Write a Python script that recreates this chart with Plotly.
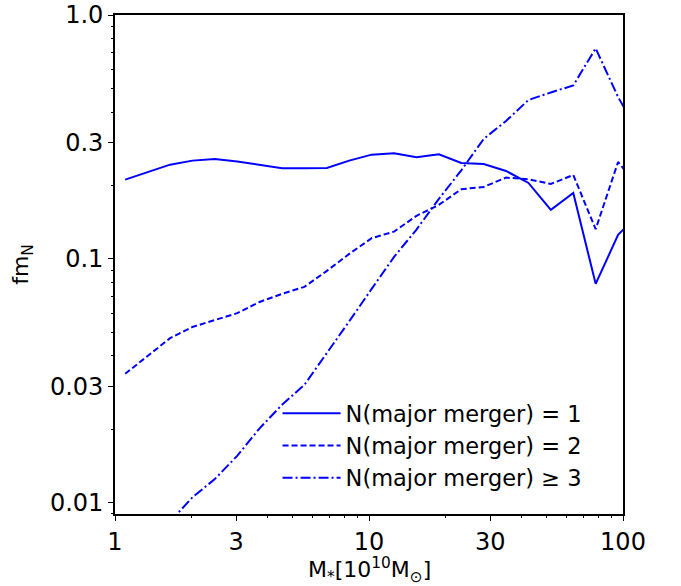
import plotly.graph_objects as go

# Stellar mass bins (10^10 Msun), log-spaced
mass = [1.097, 1.344, 1.647, 2.018, 2.472, 3.028, 3.710, 4.546, 5.569, 6.823,
        8.359, 10.24, 12.55, 15.38, 18.84, 23.08, 28.28, 34.64, 42.44, 52.00,
        63.71, 78.05, 95.63, 117.2]

f_n1 = [0.2113, 0.2273, 0.2434, 0.2529, 0.2570, 0.2510, 0.2428, 0.2352, 0.2355, 0.2360,
        0.2529, 0.2676, 0.2712, 0.2611, 0.2686, 0.2474, 0.2451, 0.2294, 0.2048, 0.1588,
        0.1864, 0.0790, 0.1254, 0.1558]

f_n2 = [0.0338, 0.0400, 0.0473, 0.0526, 0.0562, 0.0599, 0.0666, 0.0719, 0.0768, 0.0893,
        0.1048, 0.1216, 0.1294, 0.1501, 0.1665, 0.1931, 0.1973, 0.2154, 0.2122, 0.2029,
        0.2210, 0.1323, 0.2497, 0.1918]

mass_n3 = mass[2:]
f_n3 = [0.00836, 0.01053, 0.01251, 0.01558, 0.02020, 0.02522, 0.03046, 0.04095,
        0.05549, 0.0753, 0.1019, 0.1319, 0.1762, 0.2307, 0.3102, 0.3678, 0.4483,
        0.4814, 0.5142, 0.7302, 0.4612, 0.3162]

x_ticks = [1, 3, 10, 30, 100]
x_ticktext = ["1", "3", "10", "30", "100"]
y_ticks = [0.01, 0.03, 0.1, 0.3, 1.0]
y_ticktext = ["0.01", "0.03", "0.1", "0.3", "1.0"]

labels = ["N(major merger) = 1", "N(major merger) = 2", "N(major merger) \u2265 3"]
x_title = "M<sub>*</sub>[10<sup>10</sup>M<sub>\u2299</sub>]"
y_title = "fm<sub>N</sub>"

minor_x = [m * 10 ** e for e in range(0, 2) for m in range(2, 10) if m != 3]
minor_y = [m * 10 ** e for e in (-3, -2, -1) for m in range(2, 10) if m != 3]

FONT = "DejaVu Sans"
BLUE = "#0000ff"

fig = go.Figure()
fig.add_trace(go.Scatter(x=mass, y=f_n1, mode="lines", name=labels[0],
                         line=dict(color=BLUE, width=2, dash="solid")))
fig.add_trace(go.Scatter(x=mass, y=f_n2, mode="lines", name=labels[1],
                         line=dict(color=BLUE, width=2, dash="6px,3px")))
fig.add_trace(go.Scatter(x=mass_n3, y=f_n3, mode="lines", name=labels[2],
                         line=dict(color=BLUE, width=2, dash="10px,3px,2px,3px")))

axis_common = dict(
    showline=True, linecolor="black", linewidth=1.6, mirror=True,
    ticks="outside", ticklen=5, tickwidth=1.2, tickcolor="black",
    showgrid=False, zeroline=False, automargin=False,
    tickfont=dict(family=FONT, size=24, color="black"),
)

fig.update_xaxes(type="log", range=[0, 2], tickmode="array",
                 tickvals=x_ticks, ticktext=x_ticktext,
                 minor=dict(ticks="outside", ticklen=2.5, tickwidth=1, tickcolor="black",
                            tickmode="array", tickvals=minor_x, showgrid=False),
                 **axis_common)
fig.update_yaxes(type="log", range=[-2.046, 0], tickmode="array",
                 tickvals=y_ticks, ticktext=y_ticktext,
                 minor=dict(ticks="outside", ticklen=2.5, tickwidth=1, tickcolor="black",
                            tickmode="array", tickvals=minor_y, showgrid=False),
                 title=dict(text=y_title,
                            font=dict(family=FONT, size=22, color="black")),
                 **axis_common)

fig.add_annotation(text=x_title, xref="paper", yref="paper", x=0.5, y=-0.113,
                   xanchor="center", yanchor="middle", showarrow=False,
                   font=dict(family=FONT, size=22, color="black"))

fig.update_layout(
    width=681, height=586,
    margin=dict(l=115, r=58, t=15, b=72),
    paper_bgcolor="white", plot_bgcolor="white",
    showlegend=True,
    legend=dict(x=0.32, y=0.03, xanchor="left", yanchor="bottom",
                bgcolor="rgba(0,0,0,0)", borderwidth=0,
                font=dict(family=FONT, size=22.5, color="black"),
                itemwidth=58, tracegroupgap=0),
)

fig.write_html("out.html")
